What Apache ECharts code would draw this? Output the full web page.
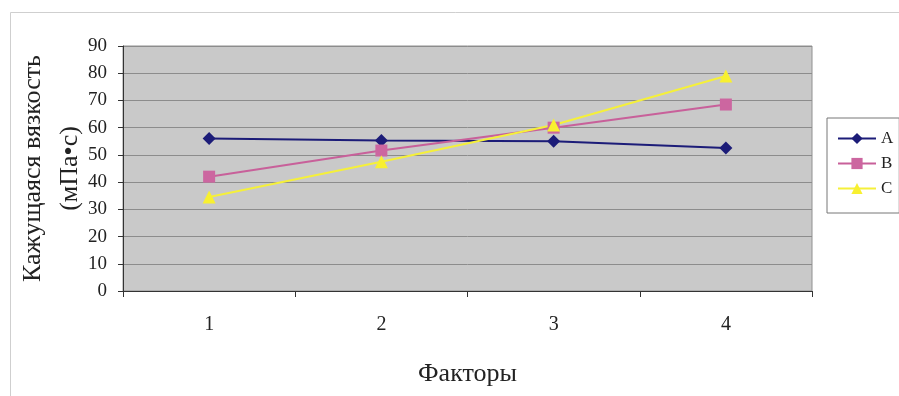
<!DOCTYPE html>
<html><head><meta charset="utf-8">
<script src="https://cdn.jsdelivr.net/npm/echarts@6/dist/echarts.min.js"></script>
<style>html,body{margin:0;padding:0;background:#fff}#c{width:899px;height:396px}</style>
</head><body><div id="c"></div>
<script>
const categories = ['1','2','3','4'];
const seriesA = [56, 55.3, 55, 52.5];
const seriesB = [42, 51.6, 60, 68.5];
const seriesC = [34.5, 47.5, 61, 79];
const seriesNames = ['A','B','C'];
const yTicks = {min:0, max:90, interval:10};

const font = 'Liberation Serif, Times New Roman, serif';
const chart = echarts.init(document.getElementById('c'));
chart.setOption({
  animation:false,
  backgroundColor:'#fff',
  graphic:[{type:'rect',shape:{x:10.5,y:12.5,width:900,height:400},style:{fill:'none',stroke:'#cfcfcf',lineWidth:1},silent:true}],
  grid:{left:123,right:87,top:46,bottom:105,outerBoundsMode:'none',containLabel:false,show:true,backgroundColor:'#c9c9c9',borderColor:'#909090',borderWidth:1},
  legend:{orient:'vertical',left:827,top:118,width:72,padding:[12,6,16,10],itemGap:8,itemWidth:38,itemHeight:14,
    backgroundColor:'#fff',borderColor:'#777',borderWidth:1,borderRadius:0,
    textStyle:{fontFamily:font,fontSize:17,color:'#222'},data:seriesNames},
  xAxis:{type:'category',data:categories,boundaryGap:true,
    name:'Факторы',nameLocation:'middle',nameGap:70,nameTextStyle:{fontFamily:font,fontSize:26,color:'#222'},
    axisLine:{lineStyle:{color:'#333',width:1}},axisTick:{show:true,length:6,lineStyle:{color:'#333'}},
    axisLabel:{fontFamily:font,fontSize:20,color:'#222',margin:24},splitLine:{show:false}},
  yAxis:{type:'value',min:yTicks.min,max:yTicks.max,interval:yTicks.interval,
    name:'Кажущаяся вязкость\n(мПа•с)',nameLocation:'middle',nameRotate:90,nameGap:34,nameMoveOverlap:false,
    nameTextStyle:{fontFamily:font,fontSize:26,color:'#222',lineHeight:37},
    axisLine:{show:true,lineStyle:{color:'#333'}},axisTick:{show:true,length:5,lineStyle:{color:'#333'}},
    axisLabel:{fontFamily:font,fontSize:19,color:'#222',margin:16},
    splitLine:{show:true,lineStyle:{color:'#8c8c8c',width:1}}},
  series:[
    {name:seriesNames[0],type:'line',data:seriesA,symbol:'diamond',symbolSize:13,
     lineStyle:{color:'#1c1c78',width:2},itemStyle:{color:'#1c1c78'}},
    {name:seriesNames[1],type:'line',data:seriesB,symbol:'rect',symbolSize:12,
     lineStyle:{color:'#c8609a',width:2},itemStyle:{color:'#cc66a0'}},
    {name:seriesNames[2],type:'line',data:seriesC,symbol:'triangle',symbolSize:13,
     lineStyle:{color:'#f5f03a',width:2},itemStyle:{color:'#f8f030'}}
  ]
});
</script></body></html>
